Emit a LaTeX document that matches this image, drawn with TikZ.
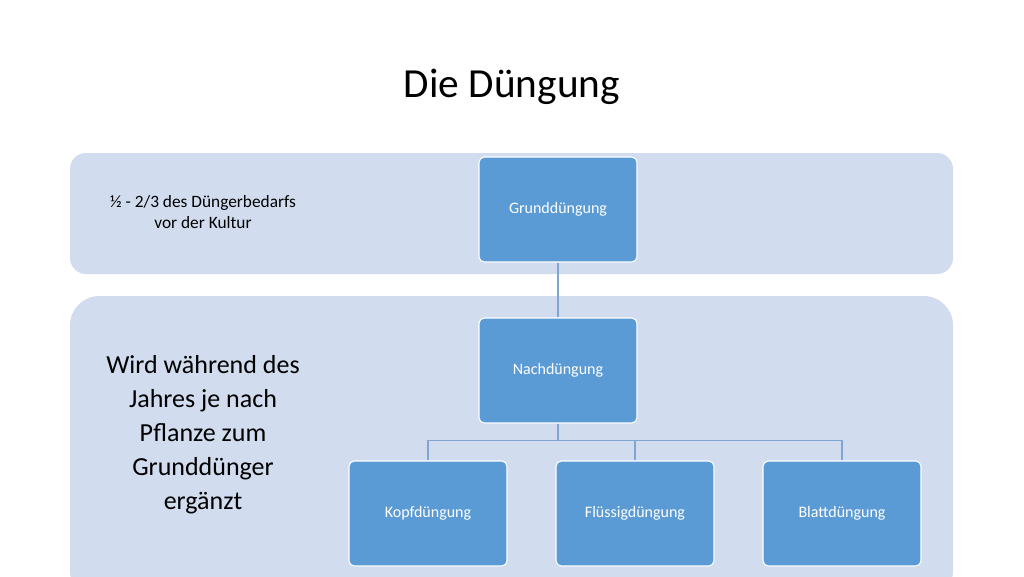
\documentclass[tikz,border=0pt]{standalone}
\usepackage{fontspec}
\setmainfont{Carlito}
\definecolor{band}{HTML}{D1DCEE}
\definecolor{boxc}{HTML}{5B9BD5}
\definecolor{linec}{HTML}{7FA6D3}
\begin{document}
\begin{tikzpicture}[x=0.75pt,y=-0.75pt,
  bandbox/.style={fill=band,draw=none,rounded corners=12pt},
  orgbox/.style={fill=boxc,draw=white,line width=0.8pt,rounded corners=4pt,minimum width=118.5pt,minimum height=78.75pt,text=white,font=\fontsize{12}{14}\selectfont,inner sep=0pt},
  conn/.style={draw=linec,line width=0.8pt}]
\useasboundingbox (0,0) rectangle (1024,576);
\fill[white] (0,0) rectangle (1024,576);
\begin{scope}
\clip (0,0) rectangle (1024,576);
\fill[band,rounded corners=12pt] (70,153) rectangle (953,274);
\fill[band,rounded corners=22pt] (70,296) rectangle (953,600);
\end{scope}
\node[font=\fontsize{31}{36}\selectfont] (title) at (512,87) {Die Düngung};
\node[font=\fontsize{13}{15.5}\selectfont,align=center] (t1) at (203,212) {½ - 2/3 des Düngerbedarfs\\vor der Kultur};
\node[font=\fontsize{19.5}{25.5}\selectfont,align=center] (t2) at (203,435) {Wird während des\\Jahres je nach\\Pflanze zum\\Grunddünger\\ergänzt};
\node[orgbox] (g) at (558,209.5) {Grunddüngung};
\node[orgbox] (n) at (558,370.5) {Nachdüngung};
\node[orgbox] (k) at (428,513.5) {Kopfdüngung};
\node[orgbox] (f) at (635,513.5) {Flüssigdüngung};
\node[orgbox] (b) at (842,513.5) {Blattdüngung};
\draw[conn] (g) -- (n);
\coordinate (m) at (558,441);
\draw[conn] (n) -- (m);
\draw[conn] (k.north) -- ++(0,-20) -| (b.north);
\draw[conn] (f.north) -- ++(0,-20);
\end{tikzpicture}
\end{document}
